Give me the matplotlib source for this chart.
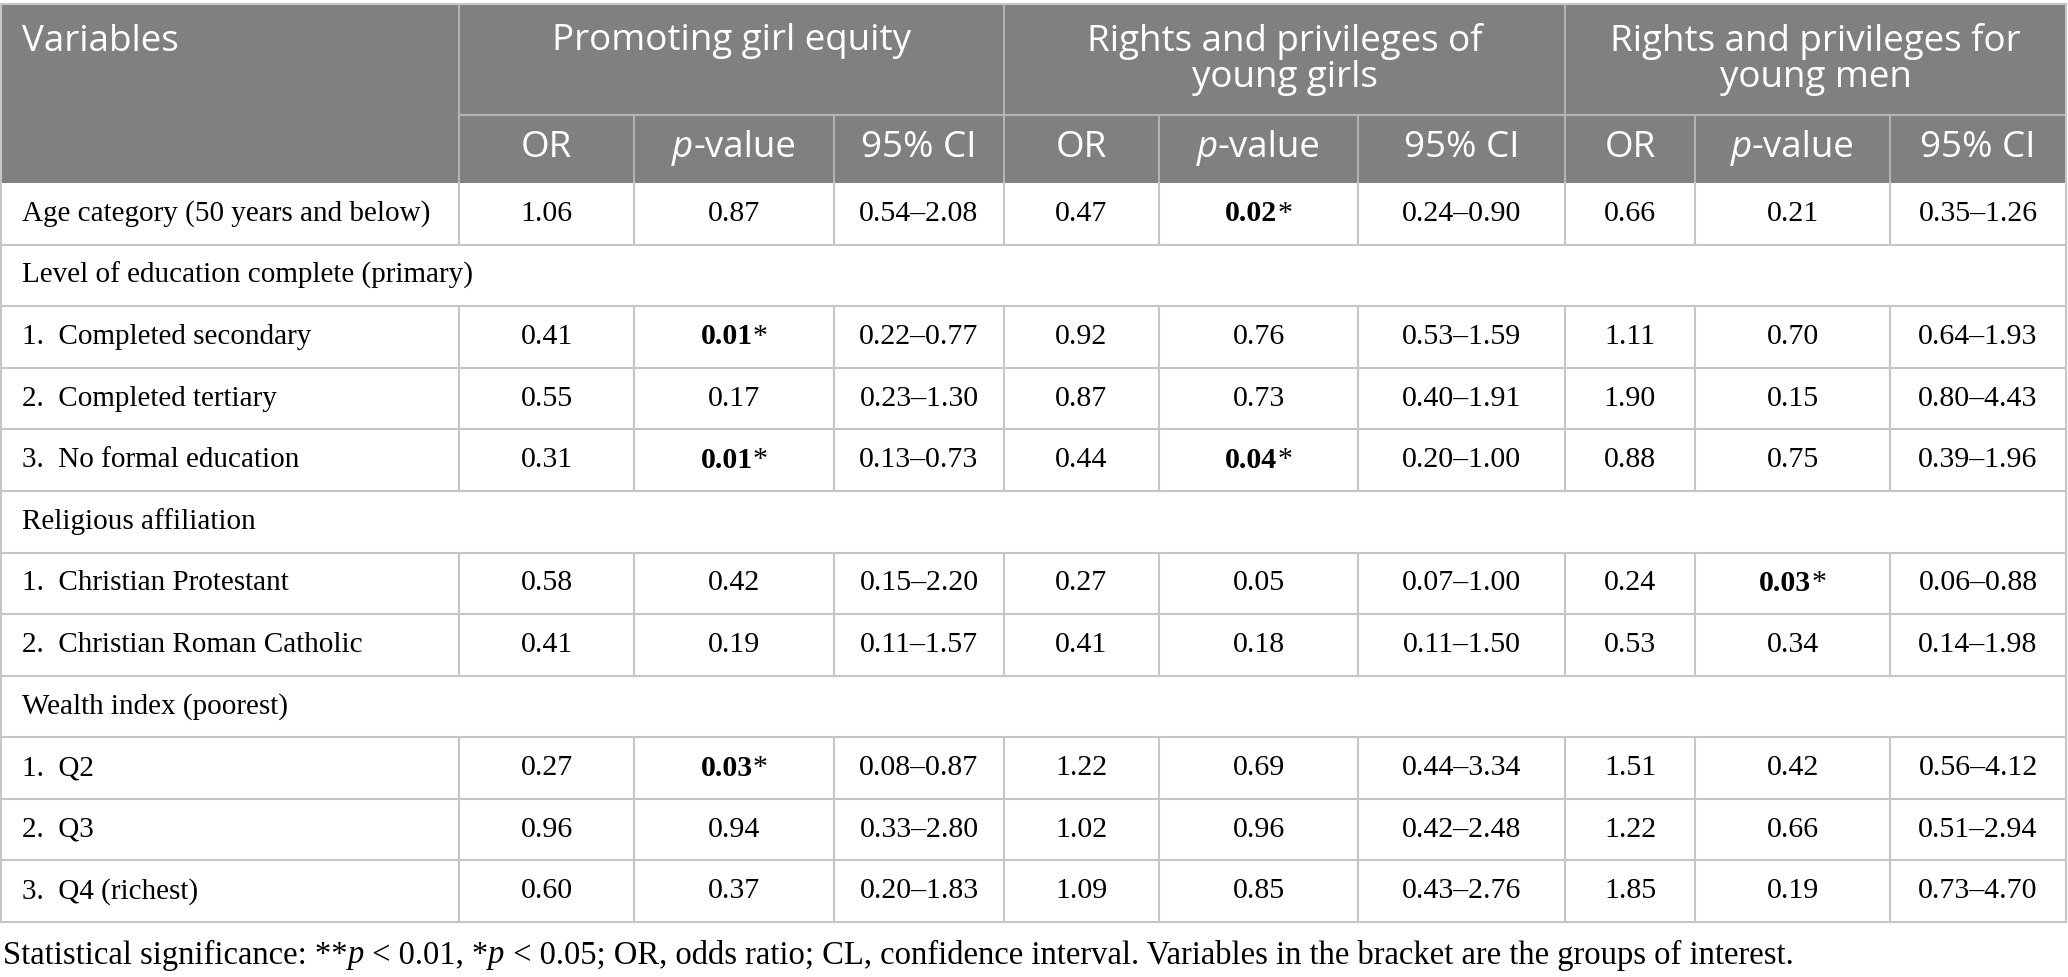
import matplotlib
matplotlib.use("Agg")
import matplotlib.pyplot as plt

# ---- table content ----
row_labels = [
    "Age category (50 years and below)",
    "Level of education complete (primary)",
    "1.  Completed secondary",
    "2.  Completed tertiary",
    "3.  No formal education",
    "Religious affiliation",
    "1.  Christian Protestant",
    "2.  Christian Roman Catholic",
    "Wealth index (poorest)",
    "1.  Q2",
    "2.  Q3",
    "3.  Q4 (richest)",
]
section_rows = [1, 5, 8]

groups = ["Promoting girl equity", "Rights and privileges of\nyoung girls",
          "Rights and privileges for\nyoung men"]

# '' on section rows; a trailing * marks significance (bold value)
or_girl = ["1.06", "", "0.41", "0.55", "0.31", "", "0.58", "0.41", "", "0.27", "0.96", "0.60"]
p_girl = ["0.87", "", "0.01*", "0.17", "0.01*", "", "0.42", "0.19", "", "0.03*", "0.94", "0.37"]
ci_girl = ["0.54–2.08", "", "0.22–0.77", "0.23–1.30", "0.13–0.73", "", "0.15–2.20", "0.11–1.57", "",
           "0.08–0.87", "0.33–2.80", "0.20–1.83"]
or_young = ["0.47", "", "0.92", "0.87", "0.44", "", "0.27", "0.41", "", "1.22", "1.02", "1.09"]
p_young = ["0.02*", "", "0.76", "0.73", "0.04*", "", "0.05", "0.18", "", "0.69", "0.96", "0.85"]
ci_young = ["0.24–0.90", "", "0.53–1.59", "0.40–1.91", "0.20–1.00", "", "0.07–1.00", "0.11–1.50", "",
            "0.44–3.34", "0.42–2.48", "0.43–2.76"]
or_men = ["0.66", "", "1.11", "1.90", "0.88", "", "0.24", "0.53", "", "1.51", "1.22", "1.85"]
p_men = ["0.21", "", "0.70", "0.15", "0.75", "", "0.03*", "0.34", "", "0.42", "0.66", "0.19"]
ci_men = ["0.35–1.26", "", "0.64–1.93", "0.80–4.43", "0.39–1.96", "", "0.06–0.88", "0.14–1.98", "",
          "0.56–4.12", "0.51–2.94", "0.73–4.70"]

columns = [or_girl, p_girl, ci_girl, or_young, p_young, ci_young, or_men, p_men, ci_men]

# ---- layout (pixels) ----
W, H = 2068, 977
col_edges = [1, 459, 634, 834, 1004, 1159, 1358, 1565, 1695, 1890, 2066]
top, mid, body_top, body_bot = 4, 115, 183, 922
row_h = (body_bot - body_top) / len(row_labels)

header_bg = "#808080"
head_line = "#b4b4b4"
grid = "#c6c6c6"
sans = "Open Sans"
serif = "Liberation Serif"
hsize = 26.5
lsize = 21
nsize = 21.5
fsize = 23.5

fig = plt.figure(figsize=(W / 100, H / 100), dpi=100)
ax = fig.add_axes([0, 0, 1, 1])
ax.set_xlim(0, W)
ax.set_ylim(H, 0)
ax.axis("off")
renderer = fig.canvas.get_renderer()


def runs(x, y, parts, ha="left", va="center", color="black"):
    # draw a sequence of differently styled strings side by side
    texts = []
    for s, kw in parts:
        t = ax.text(0, y, s, va=va, ha="left", color=color, **kw)
        texts.append(t)
    widths = [t.get_window_extent(renderer).width for t in texts]
    total = sum(widths)
    start = x - total / 2 if ha == "center" else x
    for t, w in zip(texts, widths):
        t.set_x(start)
        start += w


# header background
ax.add_patch(plt.Rectangle((col_edges[0], top), col_edges[-1] - col_edges[0], body_top - top,
                           facecolor=header_bg, edgecolor="none"))

# header lines
ax.plot([col_edges[1], col_edges[-1]], [mid, mid], color=head_line, lw=1.5)
for i in [1, 4, 7]:
    ax.plot([col_edges[i], col_edges[i]], [top, body_top], color=head_line, lw=1.5)
for i in [2, 3, 5, 6, 8, 9]:
    ax.plot([col_edges[i], col_edges[i]], [mid, body_top], color=head_line, lw=1.5)

# header text
ax.text(22, 42, "Variables", color="white", family=sans, fontsize=hsize, va="center")
for g, (a, b) in zip(groups, [(1, 4), (4, 7), (7, 10)]):
    xc = (col_edges[a] + col_edges[b]) / 2
    for n, line in enumerate(g.split("\n")):
        ax.text(xc, 41 + 37 * n, line, color="white", family=sans, fontsize=hsize,
                ha="center", va="center")
for k in range(3):
    base = 1 + 3 * k
    for j, lab in enumerate(["OR", None, "95% CI"]):
        xc = (col_edges[base + j] + col_edges[base + j + 1]) / 2
        if lab is None:
            runs(xc, 148, [("p", dict(family=sans, fontsize=hsize, style="italic")),
                           ("-value", dict(family=sans, fontsize=hsize))],
                 ha="center", color="white")
        else:
            ax.text(xc, 148, lab, color="white", family=sans, fontsize=hsize,
                    ha="center", va="center")

# body
for r, lab in enumerate(row_labels):
    y0 = body_top + r * row_h
    y1 = y0 + row_h
    yc = (y0 + y1) / 2
    ax.plot([col_edges[0], col_edges[-1]], [y1, y1], color=grid, lw=1.5)
    ax.text(22, yc, lab, family=serif, fontsize=lsize, va="center")
    if r in section_rows:
        continue
    for i in range(1, len(col_edges) - 1):
        ax.plot([col_edges[i], col_edges[i]], [y0, y1], color=grid, lw=1.5)
    for c, col in enumerate(columns):
        xc = (col_edges[c + 1] + col_edges[c + 2]) / 2
        val = col[r]
        if val.endswith("*"):
            runs(xc, yc, [(val[:-1], dict(family=serif, fontsize=nsize, weight="bold")),
                          ("*", dict(family=serif, fontsize=nsize))], ha="center")
        else:
            ax.text(xc, yc, val, family=serif, fontsize=nsize, ha="center", va="center")

# outer border
ax.plot([col_edges[0], col_edges[0]], [top, body_bot], color=grid, lw=1.5)
ax.plot([col_edges[-1], col_edges[-1]], [top, body_bot], color=grid, lw=1.5)
ax.plot([col_edges[0], col_edges[-1]], [top, top], color=grid, lw=1.5)

# footnote
fn = dict(family=serif, fontsize=fsize)
fni = dict(family=serif, fontsize=fsize, style="italic")
runs(3, 955, [("Statistical significance: **", fn), ("p", fni), (" < 0.01, *", fn), ("p", fni),
              (" < 0.05; OR, odds ratio; CL, confidence interval. Variables in the bracket are the groups of interest.", fn)])

fig.savefig("out.png", dpi=100)
